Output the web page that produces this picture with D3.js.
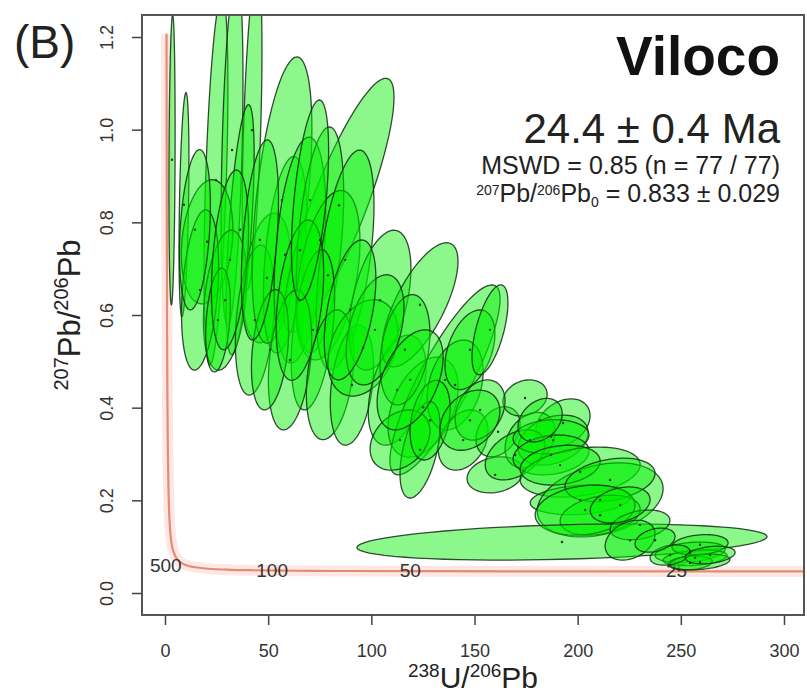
<!DOCTYPE html>
<html>
<head>
<meta charset="utf-8">
<script src="https://cdn.jsdelivr.net/npm/d3@7"></script>
<style>
  body { margin: 0; background: #fff; }
  svg { font-family: "Liberation Sans", Arial, sans-serif; }
</style>
</head>
<body>
<div id="chart"></div>
<script>
// ellipse centres (238U/206Pb, 207Pb/206Pb), half extents and correlation
var ellX  = [3.4, 9.2, 24.7, 32.5, 42.2, 36.4, 20.4, 29.1, 17.0, 49.4, 43.6, 58.2, 56.7, 84.3, 65.4, 75.1, 79.0, 87.3, 71.7, 60.6,
             80.0, 90.6, 50.9, 25.7, 104.2, 96.0, 112.5, 125.1, 135.7, 123.6, 116.3, 140.6, 123.6, 147.8, 157.5, 113.9, 144.5, 161.4, 174.5, 192.9,
             160.0, 176.9, 188.1, 169.7, 187.1, 187.1, 201.2, 201.2, 210.9, 191.5, 215.7, 210.9, 203.6, 192.4, 230.2, 225.4, 254.5, 256.9, 259.3, 254.5,
             259.3, 244.8, 264.2, 31.5, 46.0, 65.4, 70.3, 101.8, 128.5, 152.7, 181.8, 220.6, 237.5, 14.5, 89.7, 118.8, 147.8];
var ellSX = [1.5, 2.4, 5.8, 5.3, 4.8, 6.8, 12.5, 10.5, 9.0, 11.5, 9.5, 10.5, 14.5, 26.7, 12.5, 11.5, 15.5, 14.0, 10.5, 10.5,
             11.5, 10.5, 9.0, 6.0, 15.0, 17.0, 14.0, 17.0, 26.7, 18.4, 12.1, 13.6, 9.7, 12.1, 8.7, 14.5, 12.1, 10.7, 10.7, 13.1,
             13.6, 12.1, 17.0, 14.5, 18.4, 18.4, 29.1, 24.2, 30.5, 19.4, 21.8, 19.4, 24.2, 99.4, 14.5, 12.1, 17.0, 15.5, 13.6, 10.7,
             14.5, 9.7, 12.1, 9.0, 9.0, 11.5, 9.0, 14.0, 9.7, 12.1, 10.7, 14.5, 9.7, 7.5, 12.5, 16.0, 14.5];
var ellY  = [0.935, 0.838, 0.891, 0.956, 0.999, 0.784, 0.758, 0.632, 0.654, 0.680, 0.589, 0.730, 0.848, 0.837, 0.740, 0.762, 0.686, 0.719, 0.568, 0.503,
             0.471, 0.449, 0.525, 0.589, 0.632, 0.529, 0.438, 0.401, 0.460, 0.622, 0.525, 0.449, 0.309, 0.525, 0.568, 0.330, 0.330, 0.348, 0.421, 0.367,
             0.255, 0.330, 0.330, 0.298, 0.337, 0.298, 0.261, 0.201, 0.201, 0.276, 0.244, 0.168, 0.179, 0.110, 0.147, 0.114, 0.088, 0.076, 0.104, 0.065,
             0.067, 0.082, 0.082, 0.719, 0.762, 0.632, 0.848, 0.568, 0.373, 0.395, 0.373, 0.190, 0.114, 0.784, 0.611, 0.460, 0.373];
var ellSY = [0.313, 0.242, 0.399, 0.378, 0.345, 0.270, 0.134, 0.151, 0.173, 0.140, 0.162, 0.212, 0.309, 0.274, 0.244, 0.244, 0.183, 0.237, 0.173, 0.151,
             0.140, 0.130, 0.130, 0.112, 0.151, 0.104, 0.119, 0.108, 0.205, 0.134, 0.119, 0.097, 0.104, 0.086, 0.097, 0.065, 0.065, 0.054, 0.039, 0.052,
             0.039, 0.060, 0.054, 0.054, 0.037, 0.043, 0.054, 0.032, 0.080, 0.043, 0.047, 0.043, 0.054, 0.039, 0.032, 0.043, 0.022, 0.017, 0.022, 0.015,
             0.017, 0.022, 0.019, 0.194, 0.216, 0.173, 0.216, 0.119, 0.086, 0.065, 0.047, 0.039, 0.026, 0.173, 0.151, 0.108, 0.065];
var ellRho = [0.2, 0.4, 0.5, 0.4, 0.5, 0.6, 0.2, 0.3, 0.3, 0.3, 0.3, 0.4, 0.5, 0.85, 0.35, 0.4, 0.4, 0.5, 0.4, 0.3,
              0.3, 0.3, 0.3, 0.3, 0.45, 0.3, 0.4, 0.4, 0.85, 0.7, 0.3, 0.3, 0.5, 0.4, 0.6, 0.3, 0.3, 0.3, 0.2, 0.3,
              0.2, 0.3, 0.3, 0.4, 0.1, 0.2, 0.3, 0.2, 0.3, 0.2, 0.3, 0.3, 0.2, 0.3, 0.3, 0.3, 0.3, 0.3, 0.2, 0.2,
              0.3, 0.3, 0.3, 0.35, 0.4, 0.35, 0.5, 0.4, 0.3, 0.3, 0.3, 0.3, 0.3, 0.3, 0.45, 0.45, 0.3];

// concordia (Tera-Wasserburg), age in Ma
var concAge = [5500, 5000, 4500, 4000, 3500, 3000, 2500, 2000, 1500, 1000, 700, 500, 300, 200, 150, 100, 75, 50, 35, 25, 20];
var concX = [0.742, 0.853, 0.990, 1.163, 1.387, 1.688, 2.111, 2.749, 3.817, 5.959, 8.718, 12.40, 20.99, 31.74, 42.48, 63.97, 85.45, 128.4, 183.7, 257.4, 321.8];
var concY = [1.207, 0.846, 0.597, 0.425, 0.306, 0.223, 0.164, 0.123, 0.0936, 0.0725, 0.0628, 0.0572, 0.0524, 0.0501, 0.0491, 0.0480, 0.0475, 0.0470, 0.0467, 0.0466, 0.0465];
var concLabels = [500, 100, 50, 25];

var xTicks = [0, 50, 100, 150, 200, 250, 300];
var yTicks = [0.0, 0.2, 0.4, 0.6, 0.8, 1.0, 1.2];

//Basic setting
var w = 807, h = 699;
var box = {left: 142, top: 15, right: 804, bottom: 615};

var svg = d3.select('#chart').append('svg')
    .attr('width', w)
    .attr('height', h);

var x = d3.scaleLinear().domain([0, 300]).range([165, 784]);
var y = d3.scaleLinear().domain([0, 1.2]).range([593, 37]);

svg.append('clipPath').attr('id', 'clip')
  .append('rect')
    .attr('x', box.left).attr('y', box.top)
    .attr('width', box.right - box.left).attr('height', box.bottom - box.top);

var plot = svg.append('g').attr('clip-path', 'url(#clip)');

//Concordia line with pale band
var concData = concAge.map(function(a, i) { return {age: a, x: concX[i], y: concY[i]}; });
var concLine = d3.line()
    .x(function(d) { return x(d.x); })
    .y(function(d) { return y(d.y); })
    .curve(d3.curveCatmullRom);

plot.append('path')
    .datum(concData)
    .attr('d', concLine)
    .style('fill', 'none')
    .style('stroke', '#fbd9d2')
    .style('stroke-width', 11)
    .style('opacity', 0.6);
plot.append('path')
    .datum(concData)
    .attr('d', concLine)
    .style('fill', 'none')
    .style('stroke', '#e58a74')
    .style('stroke-width', 2.2);

//Age labels on concordia (behind the ellipses)
plot.selectAll('text.age')
    .data(concData.filter(function(d) { return concLabels.indexOf(d.age) >= 0; }))
  .enter().append('text')
    .attr('class', 'age')
    .attr('x', function(d) { return x(d.x) - 9; })
    .attr('y', function(d) { return y(d.y) + 6; })
    .attr('text-anchor', 'end')
    .style('font-size', '19px')
    .style('fill', '#333')
    .text(function(d) { return d.age; });

//Error ellipses
var ells = ellX.map(function(v, i) {
    return {x: v, sx: ellSX[i], y: ellY[i], sy: ellSY[i], rho: ellRho[i]};
});

function ellipsePts(d) {
    var pts = [];
    var k = Math.sqrt(1 - d.rho * d.rho);
    for (var j = 0; j < 72; j++) {
        var t = j / 72 * 2 * Math.PI;
        pts.push([d.x + d.sx * Math.cos(t), d.y + d.sy * (d.rho * Math.cos(t) + k * Math.sin(t))]);
    }
    return pts;
}
var ellLine = d3.line()
    .x(function(p) { return x(p[0]); })
    .y(function(p) { return y(p[1]); })
    .curve(d3.curveLinearClosed);

plot.selectAll('path.ell')
    .data(ells)
  .enter().append('path')
    .attr('class', 'ell')
    .attr('d', function(d) { return ellLine(ellipsePts(d)); })
    .style('fill', 'rgb(0,240,0)')
    .style('fill-opacity', 0.45)
    .style('stroke', 'rgba(20,45,20,0.85)')
    .style('stroke-width', 1.3);

plot.selectAll('circle.ctr')
    .data(ells)
  .enter().append('circle')
    .attr('class', 'ctr')
    .attr('cx', function(d) { return x(d.x); })
    .attr('cy', function(d) { return y(d.y); })
    .attr('r', 1.2)
    .style('fill', '#1d3a1d');

//Box
svg.append('rect')
    .attr('x', box.left).attr('y', box.top)
    .attr('width', box.right - box.left).attr('height', box.bottom - box.top)
    .style('fill', 'none')
    .style('stroke', '#555')
    .style('stroke-width', 2);

//Axes
var xAxis = d3.axisBottom(x).tickValues(xTicks).tickSize(10).tickPadding(19)
    .tickFormat(d3.format('d'));
var gx = svg.append('g')
    .attr('transform', 'translate(0,' + box.bottom + ')')
    .call(xAxis);
gx.select('.domain').remove();
gx.selectAll('line').style('stroke', '#444').style('stroke-width', 1.5);
gx.selectAll('text').style('font-size', '18px').style('fill', '#333')
    .style('font-family', '"Liberation Sans", Arial, sans-serif');

var yAxis = d3.axisLeft(y).tickValues(yTicks).tickSize(10)
    .tickFormat(d3.format('.1f'));
var gy = svg.append('g')
    .attr('transform', 'translate(' + box.left + ',0)')
    .call(yAxis);
gy.select('.domain').remove();
gy.selectAll('line').style('stroke', '#444').style('stroke-width', 1.5);
gy.selectAll('text')
    .attr('transform', 'rotate(-90)')
    .attr('x', 0).attr('y', -29).attr('dy', 0)
    .attr('text-anchor', 'middle')
    .style('font-size', '18px').style('fill', '#333')
    .style('font-family', '"Liberation Sans", Arial, sans-serif');

//Axis titles
var xt = svg.append('text')
    .attr('x', (box.left + box.right) / 2).attr('y', 688)
    .attr('text-anchor', 'middle').style('fill', '#222');
xt.append('tspan').style('font-size', '19px').attr('dy', -11).text('238');
xt.append('tspan').style('font-size', '30px').attr('dy', 11).text('U/');
xt.append('tspan').style('font-size', '19px').attr('dy', -11).text('206');
xt.append('tspan').style('font-size', '30px').attr('dy', 11).text('Pb');

var yt = svg.append('text')
    .attr('transform', 'translate(80,' + (box.top + box.bottom) / 2 + ') rotate(-90)')
    .attr('text-anchor', 'middle').style('fill', '#222');
yt.append('tspan').style('font-size', '20px').attr('dy', -12).text('207');
yt.append('tspan').style('font-size', '31px').attr('dy', 12).text('Pb/');
yt.append('tspan').style('font-size', '20px').attr('dy', -12).text('206');
yt.append('tspan').style('font-size', '31px').attr('dy', 12).text('Pb');

//Panel letter and annotation
svg.append('text').attr('x', 14).attr('y', 58)
    .style('font-size', '46px').style('fill', '#222').text('(B)');

var ax = 780;
svg.append('text').attr('x', ax).attr('y', 75).attr('text-anchor', 'end')
    .style('font-size', '55px').style('font-weight', 'bold').style('fill', '#111')
    .text('Viloco');
svg.append('text').attr('x', ax).attr('y', 143).attr('text-anchor', 'end')
    .style('font-size', '42px').style('fill', '#222')
    .text('24.4 \u00b1 0.4 Ma');
svg.append('text').attr('x', ax).attr('y', 174).attr('text-anchor', 'end')
    .style('font-size', '25px').style('fill', '#222')
    .text('MSWD = 0.85 (n = 77 / 77)');
var pb = svg.append('text').attr('x', ax).attr('y', 202).attr('text-anchor', 'end')
    .style('fill', '#222');
pb.append('tspan').style('font-size', '14px').attr('dy', -7).text('207');
pb.append('tspan').style('font-size', '25px').attr('dy', 7).text('Pb/');
pb.append('tspan').style('font-size', '14px').attr('dy', -7).text('206');
pb.append('tspan').style('font-size', '25px').attr('dy', 7).text('Pb');
pb.append('tspan').style('font-size', '14px').attr('dy', 5).text('0');
pb.append('tspan').style('font-size', '25px').attr('dy', -5).text(' = 0.833 \u00b1 0.029');
</script>
</body>
</html>
